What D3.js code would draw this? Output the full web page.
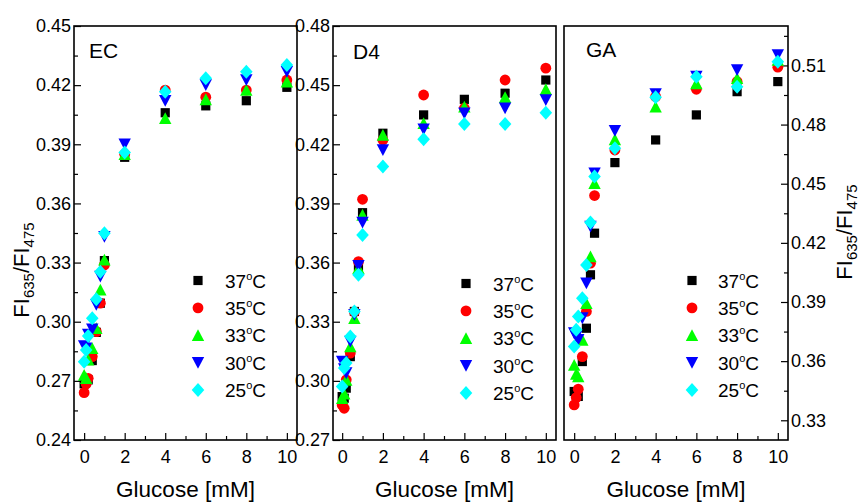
<!DOCTYPE html>
<html>
<head>
<meta charset="utf-8">
<script src="https://cdn.jsdelivr.net/npm/d3@7"></script>
<style>
  body { margin: 0; background: #fff; }
  svg { display: block; font-family: "Liberation Sans", Arial, sans-serif; }
</style>
</head>
<body>
<div id="chart"></div>
<script>
// glucose concentrations [mM]
const glucose = [0, 0.1, 0.2, 0.4, 0.6, 0.8, 1, 2, 4, 6, 8, 10];
const temps = ["37", "35", "33", "30", "25"];

// EC panel
const ec37 = [0.2685, 0.2696, 0.2705, 0.2803, 0.2946, 0.3094, 0.331, 0.3834, 0.406, 0.4095, 0.4121, 0.4189];
const ec35 = [0.264, 0.2685, 0.2713, 0.2823, 0.295, 0.3094, 0.3288, 0.385, 0.4175, 0.4139, 0.4175, 0.4226];
const ec33 = [0.273, 0.2713, 0.2807, 0.2866, 0.2967, 0.3162, 0.3314, 0.385, 0.4032, 0.4128, 0.4175, 0.4218];
const ec30 = [0.2877, 0.2865, 0.2935, 0.2962, 0.3086, 0.3229, 0.3431, 0.390, 0.4121, 0.4201, 0.4226, 0.4268];
const ec25 = [0.2797, 0.2857, 0.2928, 0.3018, 0.3114, 0.3254, 0.3449, 0.3858, 0.4167, 0.4235, 0.4268, 0.4302];

// D4 panel
const d437 = [0.292, 0.2912, 0.2963, 0.3123, 0.3352, 0.358, 0.3853, 0.4256, 0.4349, 0.4428, 0.4459, 0.4526];
const d435 = [0.2878, 0.2861, 0.3005, 0.3141, 0.335, 0.3605, 0.3921, 0.4222, 0.445, 0.4383, 0.4526, 0.4586];
const d433 = [0.2912, 0.2935, 0.3005, 0.3174, 0.3318, 0.3571, 0.3842, 0.4247, 0.4307, 0.4391, 0.4439, 0.4479];
const d430 = [0.3098, 0.306, 0.3039, 0.32, 0.3335, 0.3583, 0.3803, 0.4171, 0.4276, 0.4357, 0.4383, 0.4425];
const d425 = [0.2971, 0.3065, 0.309, 0.3225, 0.3352, 0.3538, 0.374, 0.4087, 0.4226, 0.4303, 0.4303, 0.436];

// GA panel
const ga37 = [0.3446, 0.3438, 0.3421, 0.3598, 0.3767, 0.4038, 0.4249, 0.4607, 0.4722, 0.4849, 0.4967, 0.5018];
const ga35 = [0.3378, 0.3415, 0.3458, 0.3623, 0.3852, 0.4097, 0.444, 0.4671, 0.4942, 0.4979, 0.5018, 0.5091];
const ga33 = [0.3581, 0.3535, 0.3522, 0.3708, 0.3894, 0.4131, 0.4502, 0.4725, 0.4891, 0.5009, 0.5035, 0.5128];
const ga30 = [0.3742, 0.3725, 0.3708, 0.3818, 0.3995, 0.4283, 0.4553, 0.4769, 0.4955, 0.5043, 0.5077, 0.5153];
const ga25 = [0.3674, 0.3759, 0.3826, 0.3919, 0.4088, 0.4303, 0.4536, 0.468, 0.4938, 0.5043, 0.4992, 0.5119];

const xTicks = [0, 2, 4, 6, 8, 10];
const xMinor = [1, 3, 5, 7, 9];
const ecTicks = [0.24, 0.27, 0.30, 0.33, 0.36, 0.39, 0.42, 0.45];
const d4Ticks = [0.27, 0.30, 0.33, 0.36, 0.39, 0.42, 0.45, 0.48];
const gaTicks = [0.33, 0.36, 0.39, 0.42, 0.45, 0.48, 0.51];

const colors = ["#000000", "#ff0000", "#00ff00", "#0000ff", "#00ffff"];
const shapes = ["square", "circle", "up", "down", "diamond"];

const width = 861, height = 502;
const plotTop = 26, plotBottom = 440;

const svg = d3.select("#chart").append("svg")
    .attr("width", width)
    .attr("height", height);

function shapePath(s) {
  if (s == "square") return "M-4.6,-4.6h9.2v9.2h-9.2Z";
  if (s == "circle") return "M5.4,0A5.4,5.4 0 1,1 -5.4,0A5.4,5.4 0 1,1 5.4,0Z";
  if (s == "up") return "M0,-6L6.2,5.8L-6.2,5.8Z";
  if (s == "down") return "M0,6L6.2,-5.8L-6.2,-5.8Z";
  return "M0,-7L6.3,0L0,7L-6.3,0Z";
}

const panels = [
  {name: "EC", left: 74, right: 297, xdom: [-0.5, 10.5], ydom: [0.24, 0.45], ticks: ecTicks,
   series: [ec37, ec35, ec33, ec30, ec25], side: "left", label: [89, 58], legend: [198, 225, 280.5], title: [29, 270]},
  {name: "D4", left: 333, right: 556, xdom: [-0.45, 10.5], ydom: [0.27, 0.48], ticks: d4Ticks,
   series: [d437, d435, d433, d430, d425], side: "left", label: [353, 59], legend: [466, 493, 283.5]},
  {name: "GA", left: 564, right: 788, xdom: [-0.5, 10.5], ydom: [0.32, 0.53], ticks: gaTicks,
   series: [ga37, ga35, ga33, ga30, ga25], side: "right", label: [586, 57], legend: [692, 718, 280.5], title: [852, 232]}
];

panels.forEach(p => {
  const x = d3.scaleLinear().domain(p.xdom).range([p.left, p.right]);
  const y = d3.scaleLinear().domain(p.ydom).range([plotBottom, plotTop]);
  const g = svg.append("g");

  // minor y ticks halfway between majors
  const minor = [];
  for (let v = p.ticks[0] - 0.015; v <= p.ydom[1] + 1e-9; v += 0.03) {
    if (v >= p.ydom[0] - 1e-9) minor.push(+v.toFixed(3));
  }

  const yAxis = p.side == "left" ? d3.axisLeft(y) : d3.axisRight(y);
  const yMinorAxis = p.side == "left" ? d3.axisLeft(y) : d3.axisRight(y);
  const ax = p.side == "left" ? p.left : p.right;

  g.append("g")
      .attr("transform", `translate(${ax},0)`)
      .call(yMinorAxis.tickValues(minor).tickSize(-4).tickFormat(""))
      .call(a => a.select(".domain").remove());

  g.append("g")
      .attr("transform", `translate(${ax},0)`)
      .call(yAxis.tickValues(p.ticks).tickSize(-7).tickPadding(3).tickFormat(d3.format(".2f")))
      .call(a => a.select(".domain").remove())
      .call(a => a.selectAll("text").attr("font-size", 18).attr("fill", "#000")
          .attr("font-family", "Liberation Sans, Arial, sans-serif"));

  g.append("g")
      .attr("transform", `translate(0,${plotBottom})`)
      .call(d3.axisBottom(x).tickValues(xMinor).tickSize(-4).tickFormat(""))
      .call(a => a.select(".domain").remove());

  g.append("g")
      .attr("transform", `translate(0,${plotBottom})`)
      .call(d3.axisBottom(x).tickValues(xTicks).tickSize(-7).tickPadding(10))
      .call(a => a.select(".domain").remove())
      .call(a => a.selectAll("text").attr("font-size", 18).attr("fill", "#000")
          .attr("font-family", "Liberation Sans, Arial, sans-serif"));

  g.selectAll(".tick line").attr("stroke", "#000").attr("stroke-width", 1.2);

  // frame
  g.append("rect")
      .attr("x", p.left).attr("y", plotTop)
      .attr("width", p.right - p.left).attr("height", plotBottom - plotTop)
      .attr("fill", "none").attr("stroke", "#000").attr("stroke-width", 1.6);

  // points
  p.series.forEach((vals, i) => {
    g.append("g").selectAll("path")
        .data(glucose.map((gl, j) => [gl, vals[j]]))
        .join("path")
        .attr("transform", d => `translate(${x(d[0])},${y(d[1])})`)
        .attr("d", shapePath(shapes[i]))
        .attr("fill", colors[i]);
  });

  // panel label
  g.append("text")
      .attr("x", p.label[0]).attr("y", p.label[1])
      .attr("font-size", 21)
      .text(p.name);

  // legend
  temps.forEach((t, i) => {
    const ly = p.legend[2] + i * 27.4;
    g.append("path")
        .attr("transform", `translate(${p.legend[0]},${ly})`)
        .attr("d", shapePath(shapes[i]))
        .attr("fill", colors[i]);
    const tx = g.append("text")
        .attr("x", p.legend[1]).attr("y", ly + 7)
        .attr("font-size", 19);
    tx.append("tspan").text(t);
    tx.append("tspan").attr("font-size", 11).attr("dy", -8).text("o");
    tx.append("tspan").attr("dy", 8).text("C");
  });

  // x title
  g.append("text")
      .attr("x", (p.left + p.right) / 2).attr("y", 497)
      .attr("text-anchor", "middle")
      .attr("font-size", 22.5)
      .text("Glucose [mM]");

  // y title
  if (p.title) {
    const yt = g.append("text")
        .attr("transform", `translate(${p.title[0]},${p.title[1]}) rotate(-90)`)
        .attr("text-anchor", "middle")
        .attr("font-size", 22);
    yt.append("tspan").text("FI");
    yt.append("tspan").attr("font-size", 15).attr("dy", 5).text("635");
    yt.append("tspan").attr("dy", -5).text("/FI");
    yt.append("tspan").attr("font-size", 15).attr("dy", 5).text("475");
  }
});
</script>
</body>
</html>
